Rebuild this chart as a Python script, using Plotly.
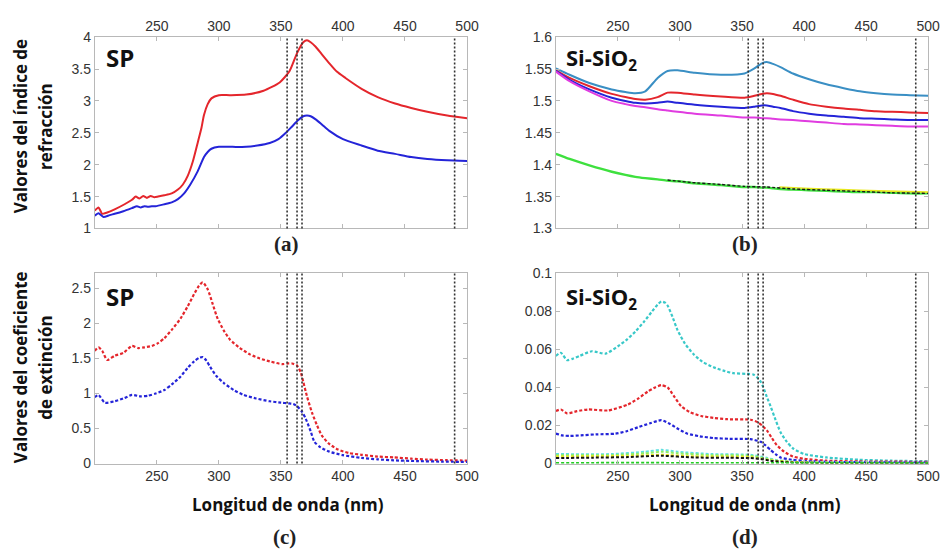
import plotly.graph_objects as go

# ---------------- data ----------------
# (a) SP refractive index
sp_n_red_x = [200, 203, 206, 210, 216, 224, 230, 233, 236, 239, 242, 245, 248, 251, 256, 262, 267, 271, 275, 279, 283, 286, 288, 291, 294, 300, 309, 322, 336, 349, 357, 363, 368, 371, 374, 378, 383, 389, 395, 402, 415, 428, 442, 455, 468, 484, 500]
sp_n_red_y = [1.28, 1.33, 1.23, 1.25, 1.30, 1.38, 1.45, 1.50, 1.47, 1.51, 1.48, 1.51, 1.49, 1.50, 1.52, 1.55, 1.61, 1.69, 1.83, 2.05, 2.35, 2.58, 2.78, 2.95, 3.04, 3.09, 3.09, 3.10, 3.16, 3.29, 3.47, 3.75, 3.92, 3.95, 3.92, 3.85, 3.73, 3.59, 3.46, 3.36, 3.19, 3.06, 2.96, 2.89, 2.83, 2.77, 2.73]
sp_n_blue_x = [200, 203, 207, 212, 216, 223, 230, 234, 237, 240, 243, 246, 249, 256, 262, 267, 272, 277, 283, 288, 291, 294, 300, 311, 322, 331, 341, 348, 354, 359, 364, 368, 371, 374, 378, 383, 389, 400, 415, 428, 442, 455, 468, 484, 500]
sp_n_blue_y = [1.20, 1.24, 1.18, 1.21, 1.23, 1.27, 1.32, 1.35, 1.33, 1.35, 1.34, 1.35, 1.35, 1.38, 1.41, 1.46, 1.55, 1.69, 1.90, 2.12, 2.20, 2.25, 2.28, 2.28, 2.28, 2.30, 2.34, 2.40, 2.50, 2.60, 2.70, 2.76, 2.77, 2.76, 2.71, 2.63, 2.53, 2.40, 2.30, 2.22, 2.17, 2.12, 2.09, 2.07, 2.06]

# (b) Si-SiO2 refractive index
si_n_x = [200, 211, 227, 245, 256, 264, 272, 282, 290, 298, 312, 333, 352, 360, 366, 370, 375, 381, 391, 404, 418, 432, 445, 458, 471, 485, 500]
si_n_steel = [1.551, 1.541, 1.528, 1.518, 1.514, 1.512, 1.515, 1.536, 1.547, 1.548, 1.544, 1.541, 1.543, 1.551, 1.559, 1.561, 1.558, 1.553, 1.543, 1.534, 1.526, 1.520, 1.515, 1.512, 1.510, 1.509, 1.508]
si_n_red = [1.548, 1.536, 1.523, 1.511, 1.506, 1.503, 1.502, 1.506, 1.513, 1.513, 1.510, 1.507, 1.505, 1.508, 1.511, 1.512, 1.511, 1.508, 1.502, 1.495, 1.491, 1.488, 1.486, 1.484, 1.483, 1.482, 1.481]
si_n_blue = [1.547, 1.533, 1.518, 1.505, 1.500, 1.497, 1.496, 1.497, 1.499, 1.497, 1.494, 1.491, 1.489, 1.491, 1.493, 1.493, 1.491, 1.489, 1.484, 1.480, 1.477, 1.475, 1.473, 1.472, 1.471, 1.470, 1.470]
si_n_magenta = [1.546, 1.531, 1.515, 1.500, 1.495, 1.492, 1.490, 1.487, 1.485, 1.483, 1.480, 1.477, 1.474, 1.474, 1.473, 1.473, 1.472, 1.471, 1.470, 1.468, 1.466, 1.464, 1.463, 1.462, 1.461, 1.460, 1.460]
si_n_green = [1.417, 1.409, 1.399, 1.389, 1.384, 1.381, 1.379, 1.377, 1.375, 1.374, 1.371, 1.368, 1.365, 1.365, 1.364, 1.364, 1.363, 1.362, 1.361, 1.360, 1.359, 1.358, 1.357, 1.357, 1.356, 1.355, 1.355]
si_n_yellow_x = [380, 400, 430, 460, 500]
si_n_yellow = [1.365, 1.363, 1.361, 1.359, 1.357]
si_n_black_x = [290, 310, 333, 352, 370, 391, 418, 445, 471, 500]
si_n_black = [1.376, 1.372, 1.369, 1.366, 1.365, 1.362, 1.360, 1.358, 1.356, 1.355]

# (c) SP extinction coefficient
sp_k_red_x = [200, 203, 206, 210, 216, 223, 230, 235, 240, 246, 251, 256, 262, 269, 275, 280, 284, 287, 291, 295, 299, 304, 309, 317, 325, 333, 341, 351, 356, 359, 363, 366, 368, 371, 375, 379, 383, 389, 396, 405, 415, 428, 441, 455, 468, 484, 500]
sp_k_red_y = [1.61, 1.66, 1.61, 1.48, 1.54, 1.58, 1.68, 1.65, 1.66, 1.68, 1.72, 1.79, 1.91, 2.07, 2.25, 2.42, 2.54, 2.59, 2.49, 2.28, 2.07, 1.90, 1.77, 1.65, 1.56, 1.50, 1.46, 1.42, 1.43, 1.43, 1.40, 1.30, 1.17, 0.96, 0.73, 0.55, 0.40, 0.28, 0.20, 0.15, 0.125, 0.10, 0.088, 0.07, 0.056, 0.048, 0.042]
sp_k_blue_x = [200, 203, 208, 216, 223, 230, 237, 243, 249, 256, 262, 269, 275, 280, 284, 287, 290, 293, 298, 304, 312, 320, 330, 341, 350, 356, 360, 363, 367, 370, 374, 377, 382, 389, 400, 415, 428, 441, 460, 480, 500]
sp_k_blue_y = [0.95, 0.98, 0.87, 0.89, 0.93, 0.98, 0.96, 0.97, 1.00, 1.05, 1.13, 1.24, 1.37, 1.46, 1.51, 1.52, 1.47, 1.38, 1.25, 1.15, 1.05, 0.98, 0.93, 0.89, 0.87, 0.86, 0.85, 0.82, 0.74, 0.64, 0.46, 0.31, 0.23, 0.17, 0.12, 0.08, 0.06, 0.046, 0.035, 0.028, 0.023]

# (d) Si-SiO2 extinction coefficient
si_k_cyan_x = [200, 204, 209, 214, 219, 229, 240, 250, 257, 264, 271, 277, 282, 285, 288, 290, 294, 298, 304, 311, 318, 327, 335, 343, 354, 359, 362, 365, 367, 370, 373, 377, 381, 386, 391, 400, 418, 444, 470, 500]
si_k_cyan = [0.0565, 0.0582, 0.0543, 0.0552, 0.0565, 0.059, 0.0577, 0.0616, 0.0650, 0.0693, 0.0745, 0.0795, 0.0835, 0.0851, 0.0845, 0.083, 0.0770, 0.0701, 0.0630, 0.0574, 0.0535, 0.0506, 0.0488, 0.0475, 0.0471, 0.0468, 0.0454, 0.0430, 0.0403, 0.0350, 0.0301, 0.0230, 0.0165, 0.0115, 0.0080, 0.0050, 0.0032, 0.0020, 0.0015, 0.0012]
si_k_red_x = [200, 204, 209, 217, 226, 242, 258, 266, 274, 280, 285, 290, 295, 301, 308, 317, 327, 338, 357, 363, 367, 370, 374, 378, 384, 391, 400, 418, 444, 470, 500]
si_k_red = [0.0276, 0.0284, 0.0264, 0.0275, 0.0284, 0.0279, 0.031, 0.0340, 0.0378, 0.0400, 0.0412, 0.0400, 0.0355, 0.0301, 0.0270, 0.025, 0.0240, 0.0233, 0.0230, 0.0216, 0.0195, 0.0174, 0.0135, 0.0097, 0.0062, 0.0037, 0.0025, 0.0015, 0.0011, 0.0010, 0.0009]
si_k_blue_x = [200, 205, 211, 220, 232, 248, 257, 266, 276, 285, 292, 299, 306, 316, 327, 340, 357, 365, 369, 373, 377, 381, 390, 404, 430, 460, 500]
si_k_blue = [0.0157, 0.0148, 0.0145, 0.0148, 0.0153, 0.0157, 0.0170, 0.019, 0.0212, 0.0228, 0.0208, 0.0180, 0.0157, 0.0143, 0.0134, 0.0130, 0.0128, 0.0114, 0.0095, 0.0071, 0.0050, 0.0032, 0.0020, 0.0012, 0.0008, 0.0006, 0.0005]
si_k_aqua_x = [200, 245, 272, 285, 298, 325, 357, 370, 378, 391, 404, 450, 500]
si_k_aqua = [0.0050, 0.0050, 0.0062, 0.0072, 0.0062, 0.0050, 0.0046, 0.0030, 0.0018, 0.0010, 0.0007, 0.0005, 0.0004]
si_k_lime_x = [200, 245, 272, 285, 298, 325, 357, 370, 378, 391, 404, 450, 500]
si_k_lime = [0.0044, 0.0044, 0.0054, 0.0062, 0.0054, 0.0044, 0.0041, 0.0026, 0.0015, 0.0008, 0.0005, 0.0004, 0.0003]
si_k_yellow_x = [200, 258, 285, 311, 357, 373, 391, 420, 500]
si_k_yellow = [0.0037, 0.0040, 0.0046, 0.0038, 0.0034, 0.0018, 0.0008, 0.0004, 0.0003]
si_k_black_x = [200, 230, 258, 285, 311, 340, 357, 365, 373, 382, 391, 420, 500]
si_k_black = [0.0029, 0.0031, 0.0034, 0.0041, 0.0032, 0.0030, 0.0029, 0.0024, 0.0015, 0.0009, 0.0005, 0.0003, 0.0002]
si_k_green_x = [200, 300, 400, 500]
si_k_green = [0.0003, 0.0003, 0.0002, 0.0002]

# wavelengths marked with vertical guide lines
marker_wavelengths = [355, 363, 367, 490]
x_ticks = [250, 300, 350, 400, 450, 500]

# ---------------- figure ----------------
RED = "#e4262c"
BLUE = "#2424d8"
STEEL = "#3a8fc4"
MAGENTA = "#e03ce0"
GREEN = "#3ee03e"
YELLOW = "#e8e820"
AQUA = "#5fe0e0"
CYAN = "#38c8c8"
LIME = "#90ee60"

fig = go.Figure()


def curve(x, y, color, axis, dash="solid", width=2.0):
    fig.add_trace(go.Scatter(
        x=x, y=y, mode="lines", xaxis="x" + axis, yaxis="y" + axis,
        line=dict(color=color, width=width, dash=dash, shape="spline", smoothing=0.6),
        showlegend=False, hoverinfo="skip"))


DOT = "3px,2px"

# (a)
curve(sp_n_red_x, sp_n_red_y, RED, "")
curve(sp_n_blue_x, sp_n_blue_y, BLUE, "")
# (b)
curve(si_n_x, si_n_steel, STEEL, "2")
curve(si_n_x, si_n_red, RED, "2")
curve(si_n_x, si_n_blue, BLUE, "2")
curve(si_n_x, si_n_magenta, MAGENTA, "2")
curve(si_n_x, si_n_green, GREEN, "2", width=2.4)
curve(si_n_yellow_x, si_n_yellow, YELLOW, "2", width=1.6)
curve(si_n_black_x, si_n_black, "#1a1a1a", "2", dash=DOT, width=1.4)
# (c)
curve(sp_k_red_x, sp_k_red_y, RED, "3", dash=DOT, width=2.2)
curve(sp_k_blue_x, sp_k_blue_y, BLUE, "3", dash=DOT, width=2.2)
# (d)
curve(si_k_cyan_x, si_k_cyan, CYAN, "4", dash=DOT, width=2.2)
curve(si_k_red_x, si_k_red, RED, "4", dash=DOT, width=2.2)
curve(si_k_blue_x, si_k_blue, BLUE, "4", dash=DOT, width=2.2)
curve(si_k_aqua_x, si_k_aqua, AQUA, "4", dash=DOT, width=2.0)
curve(si_k_lime_x, si_k_lime, LIME, "4", dash=DOT, width=2.0)
curve(si_k_yellow_x, si_k_yellow, YELLOW, "4", dash=DOT, width=2.0)
curve(si_k_black_x, si_k_black, "#111111", "4", dash=DOT, width=2.0)
curve(si_k_green_x, si_k_green, "#22cc22", "4", dash=DOT, width=2.2)

# vertical guide lines in every panel
for ax in ["", "2", "3", "4"]:
    for wl in marker_wavelengths:
        fig.add_shape(type="line", xref="x" + ax, yref=("y" + ax) + " domain",
                      x0=wl, x1=wl, y0=0, y1=1,
                      line=dict(color="#333333", width=1.6, dash="2px,2px"), layer="above")

W, H = 952, 558
def px(v):
    return v / W
def py(v):
    return 1 - v / H

tickfont = dict(family="Liberation Sans, Arial", size=14, color="#333333")
axis_common = dict(showline=True, linecolor="#b8b8b8", linewidth=1, mirror="ticks",
                   ticks="inside", ticklen=4, tickcolor="#b8b8b8", showgrid=False,
                   zeroline=False, tickfont=tickfont)

left_dom = [px(96), px(473)]
right_dom = [px(563), px(940)]
top_dom = [py(227), py(30)]
bot_dom = [py(469), py(273)]

fig.update_layout(
    width=W, height=H, margin=dict(l=0, r=0, t=0, b=0),
    paper_bgcolor="white", plot_bgcolor="white",
    xaxis=dict(domain=left_dom, range=[200, 500], tickvals=x_ticks, side="top", anchor="y", **axis_common),
    yaxis=dict(domain=top_dom, range=[1, 4], dtick=0.5, anchor="x", **axis_common),
    xaxis2=dict(domain=right_dom, range=[200, 500], tickvals=x_ticks, side="top", anchor="y2", **axis_common),
    yaxis2=dict(domain=top_dom, range=[1.3, 1.6], dtick=0.05, anchor="x2", **axis_common),
    xaxis3=dict(domain=left_dom, range=[200, 500], tickvals=x_ticks, anchor="y3", **axis_common),
    yaxis3=dict(domain=bot_dom, range=[0, 2.72], tickvals=[0, 0.5, 1, 1.5, 2, 2.5], anchor="x3", **axis_common),
    xaxis4=dict(domain=right_dom, range=[200, 500], tickvals=x_ticks, anchor="y4", **axis_common),
    yaxis4=dict(domain=bot_dom, range=[0, 0.1], dtick=0.02, anchor="x4", **axis_common),
)

sans = "Open Sans, Lato, sans-serif"
serif = "Liberation Serif, DejaVu Serif, serif"


def note(text, x, y, size, family=sans, angle=0, color="#111111"):
    fig.add_annotation(text=text, x=px(x), y=py(y), xref="paper", yref="paper",
                       showarrow=False, textangle=angle, xanchor="center", yanchor="middle",
                       font=dict(family=family, size=size, color=color))


# panel tags
note("<b>SP</b>", 122, 51, 24)
note("<b>Si-SiO<sub>2</sub></b>", 609, 52, 22)
note("<b>SP</b>", 122, 297, 24)
note("<b>Si-SiO<sub>2</sub></b>", 609, 299, 22)

# axis titles
note("<b>Valores del índice de</b>", 21, 122, 17, angle=-90)
note("<b>refracción</b>", 46, 122, 17, angle=-90)
note("<b>Valores del coeficiente</b>", 21, 370, 17, angle=-90)
note("<b>de extinción</b>", 46, 370, 17, angle=-90)
note("<b>Longitud de onda (nm)</b>", 292, 511, 17)
note("<b>Longitud de onda (nm)</b>", 755, 511, 17)

# subfigure letters
note("<b>(a)</b>", 290, 243, 21, family=serif, color="#222222")
note("<b>(b)</b>", 755, 243, 21, family=serif, color="#222222")
note("<b>(c)</b>", 288, 545, 21, family=serif, color="#222222")
note("<b>(d)</b>", 755, 545, 21, family=serif, color="#222222")

fig.write_html("out.html")
